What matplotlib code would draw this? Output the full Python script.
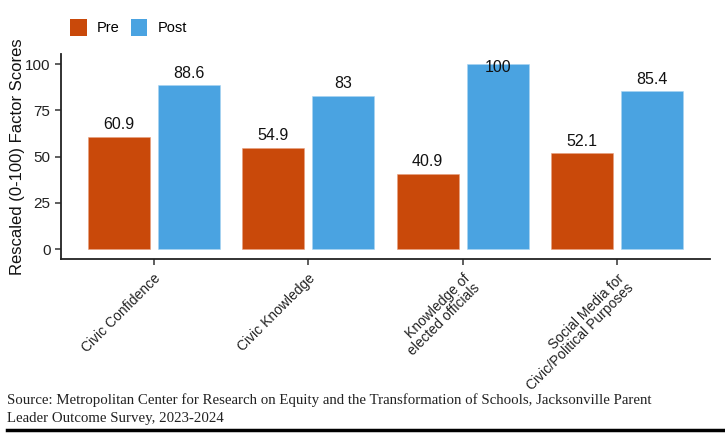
import matplotlib
matplotlib.use("Agg")
import matplotlib.pyplot as plt
import numpy as np
from matplotlib.patches import Patch
from matplotlib.lines import Line2D

categories = ["Civic Confidence", "Civic Knowledge", "Knowledge of\nelected officials",
              "Social Media for\nCivic/Political Purposes"]
pre = [60.9, 54.9, 40.9, 52.1]
post = [88.6, 83, 100, 85.4]
pre_labels = ["60.9", "54.9", "40.9", "52.1"]
post_labels = ["88.6", "83", "100", "85.4"]
yticks = [0, 25, 50, 75, 100]

PRE_C = "#C9490A"
POST_C = "#4AA3E1"

plt.rcParams['font.family'] = ['Liberation Sans', 'DejaVu Sans']

fig = plt.figure(figsize=(7.25, 4.44), dpi=100)
ax = fig.add_axes([61/725, 1-259/444, (710-61)/725, (259-54)/444])

x = np.arange(1, len(categories)+1)
w = 0.40
off = 0.227
ax.bar(x - off, pre, width=w, color=PRE_C, edgecolor="#E8A080", linewidth=0.4)
ax.bar(x + off, post, width=w, color=POST_C, edgecolor="#A8D4F2", linewidth=0.4)

for xi, v, lab in zip(x - off, pre, pre_labels):
    ax.text(xi, min(v + 6.3, 98), lab, ha="center", va="center", fontsize=11.5, color="#111")
for xi, v, lab in zip(x + off, post, post_labels):
    ax.text(xi, min(v + 6.3, 98), lab, ha="center", va="center", fontsize=11.5, color="#111")

ax.set_xlim(0.4, 4.6)
ax.set_ylim(-5.3, 105.5)
ax.set_yticks(yticks)
ax.set_yticklabels([str(t) for t in yticks], fontsize=11, color="#222")
ax.set_xticks(x)
ax.set_xticklabels(categories, rotation=45, ha="right", va="top",
                   rotation_mode="anchor", fontsize=10, color="#222",
                   multialignment="right", linespacing=0.95)
ax.tick_params(axis="both", length=4, width=1.1, color="#333")
ax.tick_params(axis="x", pad=5)
for s in ["top", "right"]:
    ax.spines[s].set_visible(False)
for s in ["left", "bottom"]:
    ax.spines[s].set_color("#222")
    ax.spines[s].set_linewidth(1.3)
ax.set_ylabel("Rescaled (0-100) Factor Scores", fontsize=12, color="#111")
ax.yaxis.set_label_coords(-0.055, 0.5)

handles = [Patch(facecolor=PRE_C, label="Pre"), Patch(facecolor=POST_C, label="Post")]
fig.legend(handles=handles, loc="upper left", bbox_to_anchor=(70/725, 1-19/444), ncol=2,
           frameon=False, fontsize=10.5, handlelength=1.16, handleheight=1.45,
           columnspacing=0.75, handletextpad=0.68, borderpad=0, borderaxespad=0)

fig.text(7/725, 1-400/444, "Source: Metropolitan Center for Research on Equity and the Transformation of Schools, Jacksonville Parent",
         fontsize=10.7, family="Liberation Serif", va="center", ha="left", color="#222")
fig.text(7/725, 1-418/444, "Leader Outcome Survey, 2023-2024",
         fontsize=10.7, family="Liberation Serif", va="center", ha="left", color="#222")
fig.add_artist(Line2D([7/725, 1.0], [1-429.5/444, 1-429.5/444], color="black", linewidth=2.5,
                      transform=fig.transFigure))

fig.savefig("out.png", dpi=100)
